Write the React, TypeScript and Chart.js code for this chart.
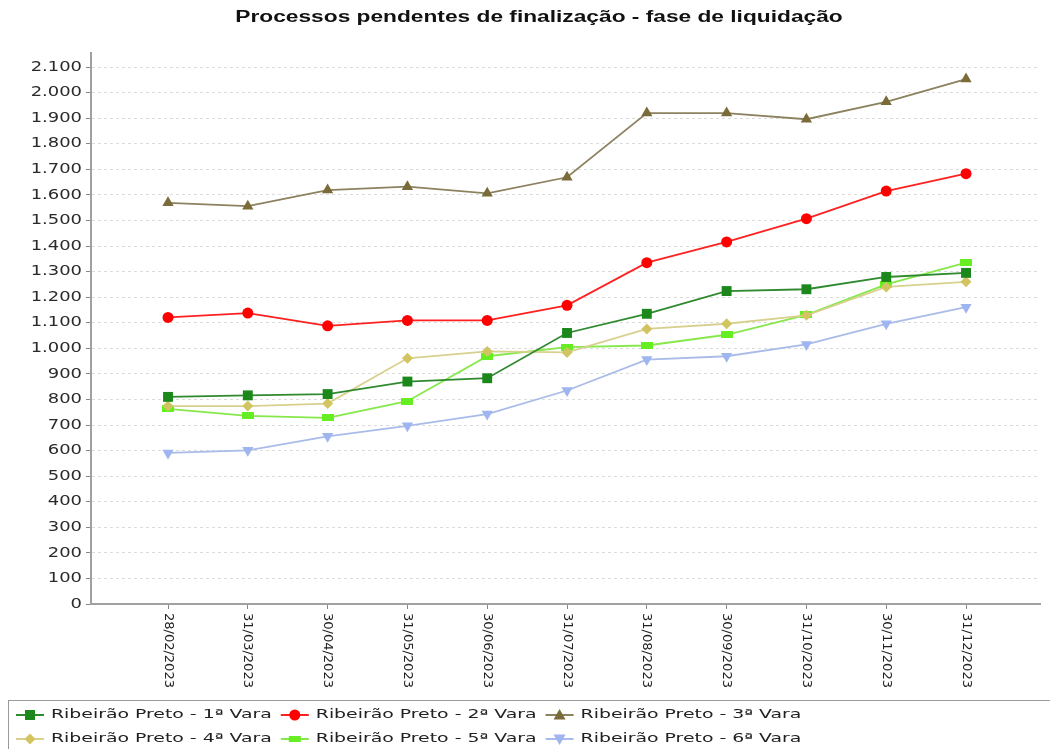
import React, { useEffect, useRef } from "react";
import { Chart, registerables } from "chart.js";

Chart.register(...registerables);

const TITLE = "Processos pendentes de finalização - fase de liquidação";

const dateLabels = [
  "28/02/2023", "31/03/2023", "30/04/2023", "31/05/2023", "30/06/2023", "31/07/2023",
  "31/08/2023", "30/09/2023", "31/10/2023", "30/11/2023", "31/12/2023",
];

const seriesNames = [
  "Ribeirão Preto - 1ª Vara",
  "Ribeirão Preto - 2ª Vara",
  "Ribeirão Preto - 3ª Vara",
  "Ribeirão Preto - 4ª Vara",
  "Ribeirão Preto - 5ª Vara",
  "Ribeirão Preto - 6ª Vara",
];

const vara1 = [810, 816, 821, 870, 883, 1060, 1135, 1224, 1231, 1279, 1295];
const vara2 = [1121, 1138, 1088, 1109, 1109, 1168, 1335, 1416, 1507, 1615, 1683];
const vara3 = [1569, 1556, 1619, 1632, 1606, 1669, 1920, 1920, 1896, 1964, 2053];
const vara4 = [774, 774, 784, 961, 988, 984, 1076, 1096, 1129, 1240, 1260];
const vara5 = [763, 736, 728, 793, 969, 1005, 1011, 1053, 1131, 1250, 1335];
const vara6 = [591, 601, 656, 697, 743, 835, 956, 969, 1015, 1096, 1161];

const yStep = 100;
const yMax = 2155;

const lineColors = ["#2f8a2f", "#ff2020", "#8c8260", "#d8d08e", "#86e84a", "#a9bbe8"];
const markerColors = ["#1c881c", "#ff0000", "#7a6b38", "#d2c460", "#66ee22", "#9eb5ef"];
const markerKinds = ["square", "circle", "triangle", "diamond", "flat", "down"];

const TITLE_STRETCH = 1.42;
const TICK_STRETCH = 1.28;
const LEGEND_STRETCH = 1.45;

function makeFlatRect(color: string) {
  const c = document.createElement("canvas");
  c.width = 12;
  c.height = 7;
  const g = c.getContext("2d")!;
  g.fillStyle = color;
  g.fillRect(0, 0, 12, 7);
  return c;
}

function drawMarker(ctx: CanvasRenderingContext2D, kind: string, x: number, y: number, color: string) {
  ctx.save();
  ctx.fillStyle = color;
  ctx.beginPath();
  if (kind === "square") {
    ctx.rect(x - 5, y - 5, 10, 10);
  } else if (kind === "circle") {
    ctx.arc(x, y, 5.5, 0, Math.PI * 2);
  } else if (kind === "triangle") {
    ctx.moveTo(x, y - 6);
    ctx.lineTo(x + 6, y + 4.5);
    ctx.lineTo(x - 6, y + 4.5);
    ctx.closePath();
  } else if (kind === "diamond") {
    ctx.moveTo(x, y - 5.5);
    ctx.lineTo(x + 5.5, y);
    ctx.lineTo(x, y + 5.5);
    ctx.lineTo(x - 5.5, y);
    ctx.closePath();
  } else if (kind === "flat") {
    ctx.rect(x - 6, y - 3, 12, 6);
  } else {
    ctx.moveTo(x, y + 6);
    ctx.lineTo(x + 6, y - 4.5);
    ctx.lineTo(x - 6, y - 4.5);
    ctx.closePath();
  }
  ctx.fill();
  ctx.restore();
}

const fmt = new Intl.NumberFormat("pt-BR");

const decorPlugin = {
  id: "decor",
  afterDraw(chart: any) {
    const ctx: CanvasRenderingContext2D = chart.ctx;
    const xs = chart.scales.x;
    const ys = chart.scales.y;
    const area = chart.chartArea;

    // Title
    ctx.save();
    ctx.font = "bold 16px 'Liberation Sans', Arial, sans-serif";
    ctx.fillStyle = "#111111";
    ctx.textAlign = "center";
    ctx.textBaseline = "middle";
    ctx.translate(539, 18);
    ctx.scale(TITLE_STRETCH, 1);
    ctx.fillText(TITLE, 0, 0);
    ctx.restore();

    // Y tick labels
    ctx.save();
    ctx.font = "14px 'DejaVu Sans', sans-serif";
    ctx.fillStyle = "#2a2a2a";
    ctx.textAlign = "right";
    ctx.textBaseline = "middle";
    for (const t of ys.ticks) {
      const py = ys.getPixelForValue(t.value);
      ctx.save();
      ctx.translate(area.left - 9, py);
      ctx.scale(TICK_STRETCH, 1);
      ctx.fillText(fmt.format(t.value), 0, 0);
      ctx.restore();
    }
    ctx.restore();

    // X tick labels, rotated clockwise
    ctx.save();
    ctx.font = "13px 'DejaVu Sans', sans-serif";
    ctx.fillStyle = "#222222";
    ctx.textAlign = "left";
    ctx.textBaseline = "middle";
    for (const t of xs.ticks) {
      const px = xs.getPixelForValue(t.value);
      const label = dateLabels[t.value];
      if (label === undefined) continue;
      ctx.save();
      ctx.translate(px, area.bottom + 9);
      ctx.rotate(Math.PI / 2);
      ctx.fillText(label, 0, 0);
      ctx.restore();
    }
    ctx.restore();

    // Legend
    ctx.save();
    ctx.strokeStyle = "#9a9a9a";
    ctx.lineWidth = 1;
    ctx.strokeRect(8.5, 700.5, 1100, 100);
    ctx.font = "13px 'DejaVu Sans', sans-serif";
    ctx.fillStyle = "#222222";
    ctx.textBaseline = "middle";
    ctx.textAlign = "left";
    const rows = [715, 739];
    for (let r = 0; r < 2; r++) {
      let x = 16;
      for (let c = 0; c < 3; c++) {
        const i = r * 3 + c;
        const y = rows[r];
        ctx.save();
        ctx.strokeStyle = lineColors[i];
        ctx.lineWidth = 2;
        ctx.beginPath();
        ctx.moveTo(x, y);
        ctx.lineTo(x + 28, y);
        ctx.stroke();
        ctx.restore();
        drawMarker(ctx, markerKinds[i], x + 14, y, markerColors[i]);
        const tx = x + 35;
        const w = ctx.measureText(seriesNames[i]).width * LEGEND_STRETCH;
        ctx.save();
        ctx.translate(tx, y);
        ctx.scale(LEGEND_STRETCH, 1);
        ctx.fillText(seriesNames[i], 0, 0);
        ctx.restore();
        x = tx + w + 9;
      }
    }
    ctx.restore();
  },
};

export default function App() {
  const ref = useRef<HTMLCanvasElement | null>(null);

  useEffect(() => {
    document.body.style.margin = "0";
    const canvas = ref.current;
    if (!canvas) return;
    const allSeries = [vara1, vara2, vara3, vara4, vara5, vara6];
    const styles: any[] = [
      { pointStyle: "rect", pointRadius: 7, pointRotation: 0 },
      { pointStyle: "circle", pointRadius: 5.5, pointRotation: 0 },
      { pointStyle: "triangle", pointRadius: 6.5, pointRotation: 0 },
      { pointStyle: "rectRot", pointRadius: 5.5, pointRotation: 0 },
      { pointStyle: makeFlatRect(markerColors[4]), pointRadius: 6, pointRotation: 0 },
      { pointStyle: "triangle", pointRadius: 6.5, pointRotation: 180 },
    ];
    const datasets = allSeries.map((vals, i) => ({
      label: seriesNames[i],
      data: vals.map((v, k) => ({ x: k, y: v })),
      borderColor: lineColors[i],
      backgroundColor: markerColors[i],
      pointBackgroundColor: markerColors[i],
      pointBorderColor: markerColors[i],
      pointBorderWidth: 0,
      borderWidth: 1.8,
      tension: 0,
      ...styles[i],
      pointHoverRadius: styles[i].pointRadius,
    }));

    const chart = new Chart(canvas, {
      type: "line",
      data: { datasets },
      options: {
        responsive: false,
        animation: false,
        devicePixelRatio: 1,
        layout: { padding: { top: 53, right: 10, bottom: 49, left: 0 } },
        plugins: {
          legend: { display: false },
          title: { display: false },
          tooltip: { enabled: false },
        },
        scales: {
          x: {
            type: "linear",
            min: -0.965,
            max: 10.927,
            ticks: { display: false, stepSize: 1, includeBounds: false },
            grid: {
              drawOnChartArea: false,
              drawTicks: true,
              tickLength: 5,
              tickColor: "#888888",
            },
            border: { display: true, color: "#a0a0a0", width: 2 },
            afterFit: (s: any) => {
              s.height = 96;
            },
          },
          y: {
            type: "linear",
            min: 0,
            max: yMax,
            ticks: { display: false, stepSize: yStep, includeBounds: false },
            grid: {
              color: "#dcdcdc",
              lineWidth: 1,
              tickLength: 5,
              tickColor: "#888888",
              tickBorderDash: [],
            },
            border: { display: true, color: "#a0a0a0", width: 2, dash: [3, 3] },
            afterFit: (s: any) => {
              s.width = 91;
            },
          },
        },
      },
      plugins: [decorPlugin],
    } as any);
    return () => chart.destroy();
  }, []);

  return (
    <div style={{ width: 1050, height: 749 }}>
      <canvas ref={ref} width={1050} height={749} />
    </div>
  );
}
